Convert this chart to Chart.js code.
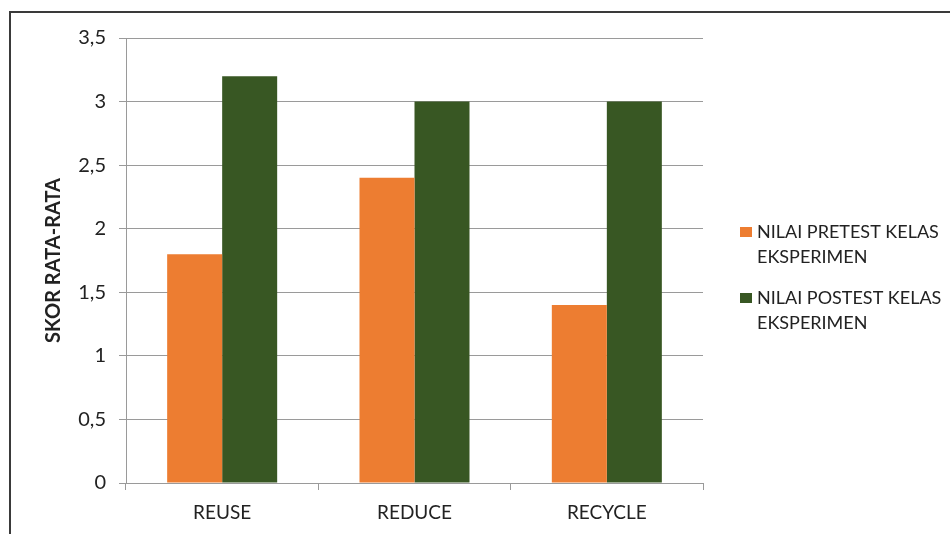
<!DOCTYPE html>
<html>
<head>
<meta charset="utf-8">
<script src="https://cdn.jsdelivr.net/npm/chart.js@4/dist/chart.umd.min.js"></script>
<style>
  html, body { margin: 0; padding: 0; background: #fff; }
  #wrap { position: relative; width: 950px; height: 534px; }
</style>
</head>
<body>
<div id="wrap"><canvas id="c" width="950" height="534"></canvas></div>
<script>
const categories = ['REUSE', 'REDUCE', 'RECYCLE'];
const pretestValues = [1.8, 2.4, 1.4];
const posttestValues = [3.2, 3.0, 3.0];
const pretestLabel = ['NILAI PRETEST KELAS', 'EKSPERIMEN'];
const posttestLabel = ['NILAI POSTEST KELAS', 'EKSPERIMEN'];
const yAxisTitle = 'SKOR RATA-RATA';
const yMin = 0, yMax = 3.5, yStep = 0.5;

const FONT = 'Lato, "Open Sans", sans-serif';
const ORANGE = '#ED7D31';
const GREEN = '#385723';
const GRID = '#9a9a9a';
const TEXT = '#222222';

const frameAndLegend = {
  id: 'frameAndLegend',
  afterDraw(chart) {
    const ctx = chart.ctx;
    ctx.save();
    ctx.strokeStyle = '#3a3a3a';
    ctx.lineWidth = 2;
    ctx.beginPath();
    ctx.moveTo(10, 534);
    ctx.lineTo(10, 12);
    ctx.lineTo(950, 12);
    ctx.stroke();
    const x0 = chart.chartArea.right + 37;
    const tops = [232, 298];
    ctx.font = '18px ' + FONT;
    ctx.textBaseline = 'middle';
    chart.data.datasets.forEach((ds, i) => {
      const y = tops[i];
      ctx.fillStyle = ds.backgroundColor;
      ctx.fillRect(x0, y - 5, 12, 10);
      ctx.fillStyle = TEXT;
      ds.label.forEach((line, j) => {
        ctx.fillText(line, x0 + 17, y + j * 25);
      });
    });
    ctx.restore();
  }
};

new Chart(document.getElementById('c'), {
  type: 'bar',
  data: {
    labels: categories,
    datasets: [
      { label: pretestLabel, data: pretestValues, backgroundColor: ORANGE,
        categoryPercentage: 0.572, barPercentage: 1.0 },
      { label: posttestLabel, data: posttestValues, backgroundColor: GREEN,
        categoryPercentage: 0.572, barPercentage: 1.0 }
    ]
  },
  options: {
    responsive: false,
    animation: false,
    devicePixelRatio: 1,
    layout: { padding: { left: 42, right: 247, top: 38, bottom: 0 } },
    plugins: {
      legend: { display: false },
      tooltip: { enabled: false }
    },
    scales: {
      x: {
        afterFit(s) { s.height = 51; },
        grid: { drawOnChartArea: false, drawTicks: true, tickLength: 7, color: GRID, offset: true },
        border: { display: true, color: GRID },
        ticks: { color: TEXT, font: { family: FONT, size: 19 }, padding: 11 }
      },
      y: {
        min: yMin, max: yMax,
        afterFit(s) { s.width = 84; },
        grid: { color: GRID, tickLength: 7, drawTicks: true },
        border: { display: true, color: GRID },
        ticks: {
          stepSize: yStep,
          color: TEXT,
          font: { family: FONT, size: 20 },
          padding: 13,
          callback: v => String(v).replace('.', ',')
        },
        title: {
          display: true, text: yAxisTitle, color: TEXT,
          font: { family: FONT, size: 20, weight: 'bold' }, padding: { top: 0, bottom: 0 }
        }
      }
    }
  },
  plugins: [frameAndLegend]
});
</script>
</body>
</html>
